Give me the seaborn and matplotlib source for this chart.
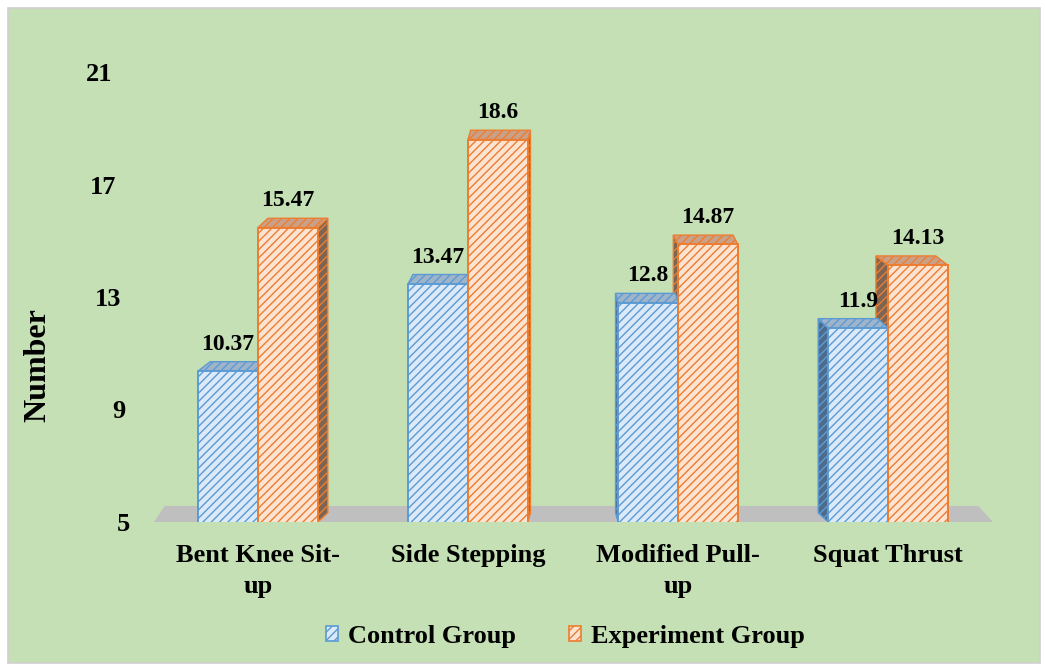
import numpy as np
import pandas as pd
import matplotlib
matplotlib.use("Agg")
import matplotlib.pyplot as plt
from matplotlib.patches import Polygon, Rectangle, Patch
from matplotlib.transforms import ScaledTranslation
import seaborn as sns

# Test items and mean scores per group
tests = ["Bent Knee Sit-\nup", "Side Stepping", "Modified Pull-\nup", "Squat Thrust"]
groups = ["Control Group", "Experiment Group"]
control_scores = [10.37, 13.47, 12.8, 11.9]
experiment_scores = [15.47, 18.6, 14.87, 14.13]
value_labels = {"Control Group": ["10.37", "13.47", "12.8", "11.9"],
                "Experiment Group": ["15.47", "18.6", "14.87", "14.13"]}
y_ticks = [5, 9, 13, 17, 21]

df = pd.DataFrame({
    "Test": tests * 2,
    "Group": [groups[0]] * 4 + [groups[1]] * 4,
    "Score": control_scores + experiment_scores,
})

face = {"Control Group": "#dbe9f8", "Experiment Group": "#fde3d1"}
edge = {"Control Group": "#5b9bd5", "Experiment Group": "#ed7d31"}
top_face = {"Control Group": "#9fb3c9", "Experiment Group": "#c9a088"}
side_face = {"Control Group": "#4f6b8c", "Experiment Group": "#7d6453"}

sns.set_theme(style="white")
plt.rcParams["font.family"] = ["Liberation Serif", "DejaVu Serif"]
plt.rcParams["font.weight"] = "bold"
plt.rcParams["hatch.linewidth"] = 1.0
for key in ("text.color", "axes.labelcolor", "xtick.color", "ytick.color"):
    plt.rcParams[key] = "black"

fig = plt.figure(figsize=(10.45, 6.69), dpi=100, facecolor="white")
fig.patches.append(Rectangle((8 / 1045, 6 / 669), 1032 / 1045, 655 / 669,
                             transform=fig.transFigure, facecolor="#c5e0b4",
                             edgecolor="#d0d0d0", linewidth=1.2, zorder=-10))
ax = fig.add_axes([153 / 1045, 1 - 522 / 669, 840 / 1045, 450 / 669])
ax.set_facecolor("none")

sns.barplot(data=df, x="Test", y="Score", hue="Group", hue_order=groups,
            palette=face, width=0.57, gap=0, legend=False, ax=ax, zorder=2)

ax.set_ylim(5, 21)
ax.set_xlim(-0.5, 3.5)
y0 = ax.get_ylim()[0]

# floor of the perspective view
xl = ax.get_xlim()
ax.add_patch(Polygon([(xl[0] + 0.005, y0), (xl[1], y0), (xl[1] - 0.07, y0 + 0.57),
                      (xl[0] + 0.055, y0 + 0.57)], closed=True,
                     facecolor="#bfbfbf", edgecolor="none", zorder=0.5, clip_on=False))

center = 1.5
k = 0.035
dy = 0.33
for cont, grp in zip(ax.containers, groups):
    for bar, lab in zip(cont, value_labels[grp]):
        bar.set_facecolor(face[grp])
        bar.set_edgecolor(edge[grp])
        bar.set_hatch("////")
        bar.set_linewidth(1.4)
        x0 = bar.get_x()
        x1 = x0 + bar.get_width()
        top = bar.get_height()
        xc = (x0 + x1) / 2
        dx = k * (center - xc)
        # side face toward the vanishing point
        sx = x1 if dx > 0 else x0
        ax.add_patch(Polygon([(sx, y0), (sx + dx, y0 + dy), (sx + dx, top + dy), (sx, top)],
                             closed=True, facecolor=side_face[grp], edgecolor=edge[grp],
                             hatch="////", linewidth=1.0, zorder=1.2))
        # top face
        ax.add_patch(Polygon([(x0, top), (x1, top), (x1 + dx, top + dy), (x0 + dx, top + dy)],
                             closed=True, facecolor=top_face[grp], edgecolor=edge[grp],
                             hatch="////", linewidth=1.0, zorder=1.5))
        ax.annotate(lab, (xc, top + dy), xytext=(0, 5), textcoords="offset points",
                    ha="center", va="bottom", fontsize=17, fontweight="bold",
                    color="black", zorder=5)

sns.despine(ax=ax, left=True, bottom=True)
ax.set_yticks(y_ticks)
ax.set_yticklabels([str(t) for t in y_ticks], fontsize=19, fontweight="bold", ha="right")
ax.tick_params(axis="y", length=0, pad=16.5)
ax.tick_params(axis="x", length=0, pad=16)
# tick labels follow the receding left wall of the 3-D view
for lbl, v in zip(ax.get_yticklabels(), y_ticks):
    lbl.set_transform(lbl.get_transform() +
                      ScaledTranslation(-(v - y_ticks[0]) * 1.12 / 100, 0, fig.dpi_scale_trans))
for t in ax.get_xticklabels():
    t.set_fontsize(19)
    t.set_fontweight("bold")
    t.set_linespacing(1.45)
ax.set_xlabel("")
ax.set_ylabel("Number", fontsize=23, fontweight="bold")
ax.yaxis.set_label_coords(-0.120, 0.349)
ax.grid(False)

handles = [Patch(facecolor=face[g], edgecolor=edge[g], hatch="////", linewidth=1.2) for g in groups]
fig.legend(handles, groups, loc="center", bbox_to_anchor=(0.541, 0.049), ncol=2,
           frameon=False, handlelength=0.47, handleheight=0.47, handletextpad=0.37,
           columnspacing=2.0, prop={"size": 19, "weight": "bold"})

fig.savefig("out.png", dpi=100, facecolor=fig.get_facecolor())
